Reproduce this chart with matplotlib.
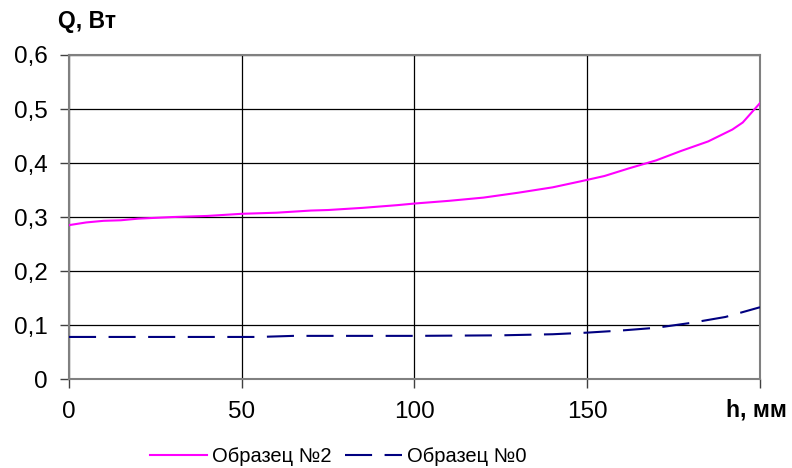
import matplotlib.pyplot as plt
from matplotlib.ticker import FuncFormatter

plt.rcParams['font.family'] = ['Liberation Sans', 'DejaVu Sans']

# Образец №2
h2 = [0, 5, 10, 15, 20, 30, 40, 50, 60, 70, 75, 85, 95, 100, 110, 120, 130,
      140, 148, 155, 162, 170, 177, 185, 192, 195, 200]
q2 = [0.285, 0.290, 0.293, 0.294, 0.297, 0.300, 0.302, 0.306, 0.308, 0.312, 0.313,
      0.317, 0.322, 0.325, 0.330, 0.336, 0.345, 0.355, 0.366, 0.376, 0.390, 0.405,
      0.422, 0.440, 0.462, 0.475, 0.511]

# Образец №0
h0 = [0, 20, 40, 55, 65, 80, 100, 125, 140, 150, 160, 170, 180, 190, 200]
q0 = [0.078, 0.078, 0.078, 0.078, 0.080, 0.080, 0.080, 0.081, 0.083, 0.086, 0.090,
      0.095, 0.104, 0.115, 0.133]

xticks = [0, 50, 100, 150, 200]
xlabels = ['0', '50', '100', '150', '']
yticks = [0, 0.1, 0.2, 0.3, 0.4, 0.5, 0.6]

fig = plt.figure(figsize=(7.92, 4.68), dpi=100)
ax = fig.add_axes([0.0871, 0.19, 0.8725, 0.6925])

ax.plot(h2, q2, color='#FF00FF', lw=1.5, label='Образец №2', zorder=3)
ax.plot(h0, q0, color='#000080', lw=1.5, dashes=(13, 6), label='Образец №0', zorder=3)

ax.set_xlim(0, 200)
ax.set_ylim(0, 0.6)
ax.set_xticks(xticks)
ax.set_xticklabels(xlabels)
ax.set_yticks(yticks)
ax.yaxis.set_major_formatter(FuncFormatter(lambda v, p: ('%g' % round(v, 1)).replace('.', ',')))
ax.grid(True, color='black', lw=0.9)
for s in ax.spines.values():
    s.set_color('#808080')
    s.set_linewidth(1.5)
ax.tick_params(axis='both', direction='out', length=6.5, width=1, color='#404040',
               labelsize=17.5)
ax.tick_params(axis='y', pad=9)
ax.tick_params(axis='x', pad=9)

fig.text(0.073, 0.953, 'Q, Вт', fontsize=16.5, fontweight='bold', ha='left', va='center')
fig.text(0.917, 0.123, 'h, мм', fontsize=16.5, fontweight='bold', ha='left', va='center')

fig.legend(loc='center', bbox_to_anchor=(0.427, 0.024), ncol=2, frameon=False,
           fontsize=14.5, handlelength=2.8, handletextpad=0.25, columnspacing=0.7)

fig.savefig('out.png', dpi=100)
